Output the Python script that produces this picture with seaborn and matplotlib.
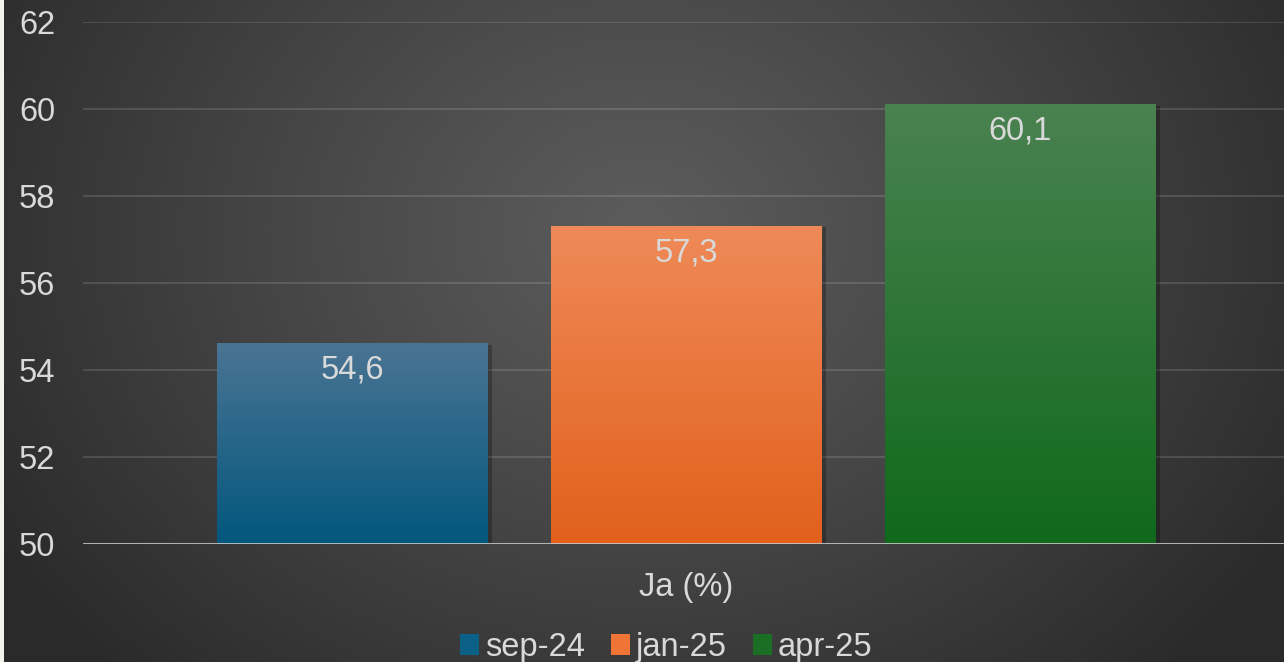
import numpy as np
import pandas as pd
import matplotlib
matplotlib.use("Agg")
import matplotlib.pyplot as plt
from matplotlib.colors import LinearSegmentedColormap
from matplotlib.patches import Rectangle
import seaborn as sns

# ---- data ----
category = ["Ja (%)"]
periods = ["sep-24", "jan-25", "apr-25"]
values = [54.6, 57.3, 60.1]
yticks = [50, 52, 54, 56, 58, 60, 62]

top_colors = ["#4a7493", "#ef8a58", "#4a8250"]
bottom_colors = ["#03577e", "#e2601c", "#10691c"]

df = pd.DataFrame({"cat": category * len(periods), "period": periods, "value": values})

sns.set_theme(style="white")
plt.rcParams["font.family"] = ["Liberation Sans", "DejaVu Sans"]

W, H = 1284, 662
fig = plt.figure(figsize=(W / 100, H / 100), dpi=100)

# background radial gradient
bg = fig.add_axes([0, 0, 1, 1], zorder=0)
yy, xx = np.mgrid[0:H, 0:W]
cx, cy = 640, 230
r = np.sqrt(((xx - cx) / 760.0) ** 2 + ((yy - cy) / 620.0) ** 2)
r = np.clip(r, 0, 1)
c_in, c_out = 0.36, 0.165
g = c_in + (c_out - c_in) * r ** 1.1
img = np.dstack([g, g, g])
img[:, :4, :] = np.array([0xf4, 0xf2, 0xec]) / 255.0
bg.imshow(img, extent=[0, W, H, 0], aspect="auto", interpolation="bilinear")
bg.set_axis_off()

ax = fig.add_axes([83 / W, 1 - 544 / H, 1 - 83 / W, (544 - 22) / H], zorder=1)
ax.patch.set_alpha(0)

sns.barplot(data=df, x="cat", y="value", hue="period", hue_order=periods,
            palette=bottom_colors, width=0.8, gap=0.19, ax=ax, legend=False,
            saturation=1, zorder=3, linewidth=0)

ax.set_ylim(50, 62)
ax.set_xlim(-0.4815, 0.4775)
ax.set_yticks(yticks)
ax.set_yticklabels([str(t) for t in yticks])

for sp in ax.spines.values():
    sp.set_visible(False)

for t in yticks[1:]:
    ax.axhline(t, color="white", alpha=0.17, lw=1.1, zorder=1)
ax.axhline(50, color="#c8c8c8", alpha=0.85, lw=2.2, zorder=6)

bars = [p for p in ax.patches if isinstance(p, Rectangle)]
bars = sorted(bars, key=lambda p: p.get_x())
for p, tc, bc, v in zip(bars, top_colors, bottom_colors, values):
    x0, w = p.get_x(), p.get_width()
    h = p.get_height()
    # shadow
    ax.add_patch(Rectangle((x0 + 0.004, 50), w, h - 50 - 0.02, facecolor="black",
                           alpha=0.25, edgecolor="none", zorder=2))
    cmap = LinearSegmentedColormap.from_list("g", [bc, tc])
    grad = np.linspace(0, 1, 256).reshape(-1, 1)
    ax.imshow(grad, cmap=cmap, extent=[x0, x0 + w, 50, h], origin="lower",
              aspect="auto", zorder=4, interpolation="bilinear")
    ax.text(x0 + w / 2, h - 0.6, f"{v:.1f}".replace(".", ","), ha="center",
            va="center", color="#d9d9d9", fontsize=23.5, zorder=7)

ax.set_xlim(-0.4815, 0.4775)
ax.set_ylim(50, 62)
ax.set_xlabel("")
ax.set_ylabel("")
ax.tick_params(axis="both", length=0, colors="#d9d9d9", labelsize=23.5)
ax.tick_params(axis="y", pad=20)
ax.tick_params(axis="x", pad=20)
ax.grid(False)

handles = [Rectangle((0, 0), 1, 1, facecolor=c, edgecolor="none") for c in
           ["#0b6088", "#ef7436", "#1a6f25"]]
leg = fig.legend(handles, periods, loc="center", bbox_to_anchor=(0.5187, 0.022),
                 ncol=3, frameon=False, fontsize=23.5, handlelength=0.58,
                 handleheight=0.58, handletextpad=0.18, columnspacing=0.8,
                 labelcolor="#d9d9d9")

fig.savefig("out.png", dpi=100)
